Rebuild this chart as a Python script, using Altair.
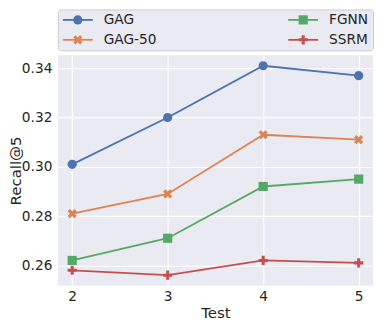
import altair as alt
import pandas as pd

tests = [2, 3, 4, 5]
series_names = ["GAG", "GAG-50", "FGNN", "SSRM"]
gag = [0.301, 0.320, 0.341, 0.337]
gag50 = [0.281, 0.289, 0.313, 0.311]
fgnn = [0.262, 0.271, 0.292, 0.295]
ssrm = [0.258, 0.256, 0.262, 0.261]
y_ticks = [0.26, 0.28, 0.30, 0.32, 0.34]

# legend grid position of each series (matplotlib ncol=2, column-major)
legend_col = [0, 0, 1, 1]
legend_row = [0, 1, 0, 1]

rows = []
for name, vals in zip(series_names, [gag, gag50, fgnn, ssrm]):
    for t, v in zip(tests, vals):
        rows.append({"series": name, "Test": t, "value": v})
df = pd.DataFrame(rows)
leg_df = pd.DataFrame({"series": series_names, "col": legend_col, "row": legend_row})

colors = {"GAG": "#4C72B0", "GAG-50": "#DD8452", "FGNN": "#55A868", "SSRM": "#C44E52"}
col_range = [colors[s] for s in series_names]


def pts(points):
    return "M" + "L".join(f"{x:.3f},{y:.3f}" for x, y in points) + "Z"


X_PTS = [(0.5, -1), (1, -0.5), (0.5, 0), (1, 0.5), (0.5, 1), (0, 0.5), (-0.5, 1),
         (-1, 0.5), (-0.5, 0), (-1, -0.5), (-0.5, -1), (0, -0.5)]
T = 1 / 3
P_PTS = [(-T, -1), (T, -1), (T, -T), (1, -T), (1, T), (T, T), (T, 1), (-T, 1),
         (-T, T), (-1, T), (-1, -T), (-T, -T)]

mark_shapes = {"GAG": "circle", "GAG-50": pts(X_PTS), "FGNN": "square", "SSRM": pts(P_PTS)}
mark_sizes = {"GAG": 85, "GAG-50": 85, "FGNN": 95, "SSRM": 100}

FONT = "DejaVu Sans"
TXT = "#262626"
BG = "#EAEAF2"

color_scale = alt.Scale(domain=series_names, range=col_range)
shape_scale = alt.Scale(domain=series_names, range=[mark_shapes[s] for s in series_names])
size_scale = alt.Scale(domain=series_names, range=[mark_sizes[s] for s in series_names])

# ---------------- main plot ----------------
base = alt.Chart(df)
x_enc = alt.X("Test:Q", scale=alt.Scale(domain=[1.85, 5.15], nice=False, zero=False),
              axis=alt.Axis(values=tests, format="d", title="Test"))
y_enc = alt.Y("value:Q", scale=alt.Scale(domain=[0.25175, 0.34525], nice=False, zero=False),
              axis=alt.Axis(values=y_ticks, format=".2f", title="Recall@5"))

lines = base.mark_line(strokeWidth=1.8).encode(
    x=x_enc, y=y_enc,
    color=alt.Color("series:N", scale=color_scale, legend=None),
    detail="series:N",
)
points = base.mark_point(filled=True, opacity=1).encode(
    x="Test:Q", y="value:Q",
    color=alt.Color("series:N", scale=color_scale, legend=None),
    shape=alt.Shape("series:N", scale=shape_scale, legend=None),
    size=alt.Size("series:N", scale=size_scale, legend=None),
)
main = alt.layer(lines, points).properties(width=316, height=231)

# ---------------- legend panel ----------------
lb = alt.Chart(leg_df)
lx = alt.X("col:Q", scale=alt.Scale(domain=[0, 1], range=[5, 231]), axis=None)
ly = alt.Y("row:O", scale=alt.Scale(type="point", padding=0.525), axis=None)

leg_line = lb.mark_rule(strokeWidth=1.8, x2Offset=30).encode(
    x=lx, x2=alt.X2("col:Q"), y=ly,
    color=alt.Color("series:N", scale=color_scale, legend=None),
)
leg_pt = lb.mark_point(filled=True, opacity=1, xOffset=15).encode(
    x=lx, y=ly,
    color=alt.Color("series:N", scale=color_scale, legend=None),
    shape=alt.Shape("series:N", scale=shape_scale, legend=None),
    size=alt.Size("series:N", scale=size_scale, legend=None),
)
leg_txt = lb.mark_text(align="left", baseline="middle", dx=41, font=FONT,
                       fontSize=13.75, color=TXT).encode(
    x=lx, y=ly, text="series:N",
)
leg_panel = alt.layer(leg_line, leg_pt, leg_txt).properties(
    width=316, height=41,
    view=alt.ViewBackground(fill=BG, stroke="#CCCCCC", cornerRadius=3, strokeWidth=1),
)

chart = alt.vconcat(leg_panel, main, spacing=5, bounds="flush").resolve_scale(
    x="independent", y="independent"
).properties(
    autosize=alt.AutoSizeParams(type="pad"),
    padding={"left": 0, "top": 0, "right": 0, "bottom": 2},
    background="white",
).configure_view(
    fill=BG, stroke=None
).configure_axis(
    domain=False, ticks=False, grid=True, gridColor="white", gridWidth=1.2,
    labelFont=FONT, labelFontSize=13.75, labelColor=TXT, labelPadding=4,
    titleFont=FONT, titleFontSize=15, titleColor=TXT, titleFontWeight="normal",
)
chart = chart.configure_axisY(titlePadding=-2, labelPadding=6).configure_axisX(titlePadding=2)

chart.save("out.html", embed_options={"renderer": "svg", "actions": False})
